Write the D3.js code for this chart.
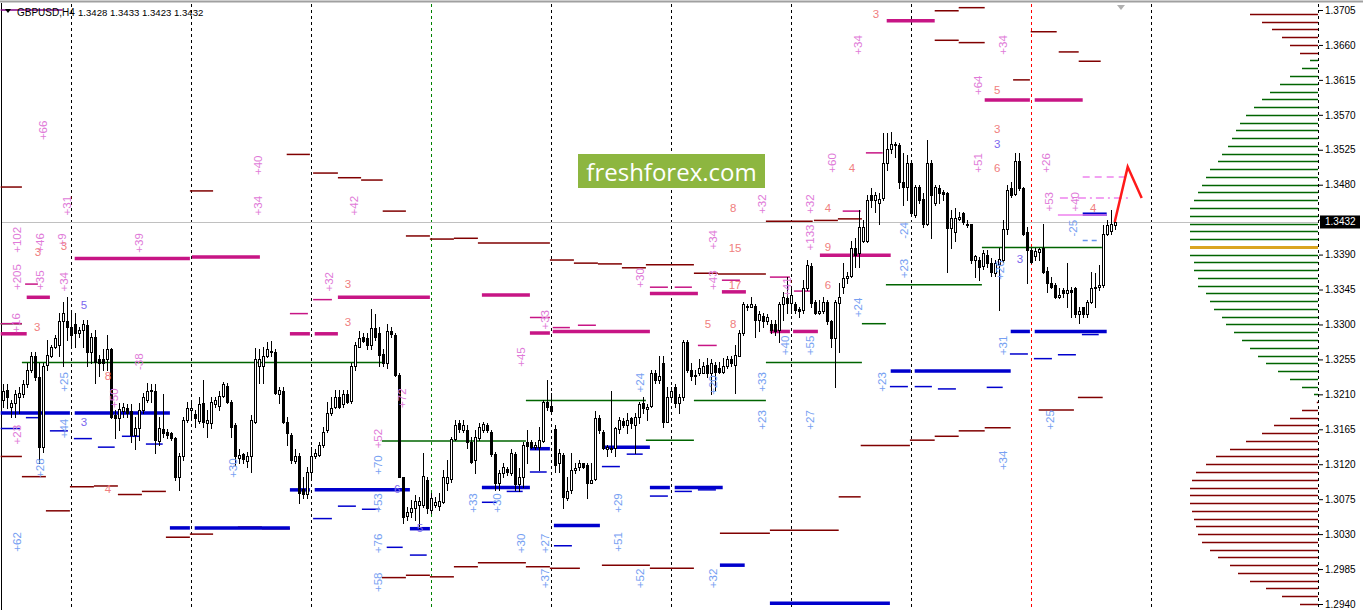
<!DOCTYPE html>
<html><head><meta charset="utf-8">
<script src="https://cdn.jsdelivr.net/npm/d3@7/dist/d3.min.js"></script>
<style>
html,body{margin:0;padding:0;background:#fff;}
svg{display:block;font-family:"Liberation Sans",Arial,sans-serif;}
</style></head><body>
<svg id="c" width="1363" height="610"></svg>
<script>
// ---------------- DATA ----------------
const symbolTitle = "GBPUSD,H4";
const lastOHLC = [1.3428, 1.3433, 1.3423, 1.3432];
const priceTicks = [1.2940,1.2985,1.3030,1.3075,1.3120,1.3165,1.3210,1.3255,1.3300,1.3345,1.3390,1.3435,1.3480,1.3525,1.3570,1.3615,1.3660,1.3705];
const tickLabels = ["1.2940","1.2985","1.3030","1.3075","1.3120","1.3165","1.3210","1.3255","1.3300","1.3345","1.3390","1.3432","1.3480","1.3525","1.3570","1.3615","1.3660","1.3705"];
const currentPrice = 1.3432;
// week separators (bar index) and their colours
const weekStarts = [17,47,77,107,137,167,197,227,257,287];
const weekColors = ["#000","#000","#000","#008000","#000","#000","#000","#000","#ff0000","#000"];
// H4 candles [open, high, low, close]
const candles = [
[1.3203,1.3223,1.3194,1.3214],[1.3216,1.3223,1.3193,1.3206],[1.3194,1.3203,1.3181,1.3199],[1.3199,1.3216,1.3181,1.3210],
[1.3206,1.3219,1.3186,1.3212],[1.3210,1.3229,1.3207,1.3223],[1.3223,1.3251,1.3220,1.3242],[1.3242,1.3265,1.3239,1.3259],
[1.3259,1.3264,1.3229,1.3232],[1.3232,1.3251,1.3122,1.3142],[1.3142,1.3251,1.3136,1.3246],[1.3248,1.3280,1.3242,1.3261],
[1.3259,1.3274,1.3258,1.3271],[1.3271,1.3287,1.3270,1.3283],[1.3273,1.3315,1.3259,1.3304],[1.3304,1.3329,1.3246,1.3315],
[1.3304,1.3335,1.3280,1.3297],
[1.3297,1.3315,1.3271,1.3287],[1.3300,1.3315,1.3271,1.3289],[1.3289,1.3297,1.3284,1.3293],[1.3293,1.3306,1.3271,1.3300],
[1.3299,1.3306,1.3246,1.3264],[1.3264,1.3289,1.3251,1.3284],[1.3284,1.3293,1.3225,1.3252],[1.3255,1.3261,1.3233,1.3250],
[1.3255,1.3268,1.3242,1.3251],[1.3255,1.3287,1.3242,1.3268],[1.3268,1.3270,1.3180,1.3181],[1.3184,1.3190,1.3154,1.3180],
[1.3180,1.3199,1.3164,1.3191],[1.3188,1.3199,1.3181,1.3194],[1.3193,1.3197,1.3181,1.3186],[1.3188,1.3197,1.3148,1.3158],
[1.3158,1.3181,1.3139,1.3167],[1.3167,1.3199,1.3151,1.3190],[1.3190,1.3212,1.3186,1.3206],[1.3203,1.3225,1.3200,1.3214],
[1.3216,1.3223,1.3200,1.3214],[1.3214,1.3223,1.3135,1.3151],[1.3150,1.3181,1.3145,1.3167],[1.3166,1.3210,1.3155,1.3160],
[1.3162,1.3166,1.3154,1.3158],[1.3160,1.3162,1.3151,1.3154],[1.3154,1.3155,1.3100,1.3104],[1.3103,1.3135,1.3087,1.3130],
[1.3130,1.3181,1.3126,1.3177],[1.3177,1.3200,1.3175,1.3193],
[1.3190,1.3203,1.3181,1.3193],[1.3185,1.3190,1.3168,1.3180],[1.3176,1.3206,1.3173,1.3198],[1.3199,1.3229,1.3168,1.3175],
[1.3173,1.3190,1.3155,1.3177],[1.3173,1.3207,1.3167,1.3200],[1.3197,1.3207,1.3194,1.3203],[1.3195,1.3214,1.3190,1.3208],
[1.3208,1.3226,1.3207,1.3223],[1.3221,1.3225,1.3199,1.3200],[1.3200,1.3203,1.3155,1.3168],[1.3170,1.3173,1.3119,1.3130],
[1.3128,1.3139,1.3122,1.3132],[1.3133,1.3135,1.3122,1.3127],[1.3124,1.3136,1.3117,1.3131],[1.3130,1.3184,1.3110,1.3177],
[1.3175,1.3270,1.3173,1.3255],[1.3246,1.3268,1.3225,1.3255],[1.3246,1.3271,1.3225,1.3259],[1.3259,1.3278,1.3258,1.3268],
[1.3266,1.3279,1.3259,1.3264],[1.3264,1.3268,1.3210,1.3212],[1.3211,1.3220,1.3199,1.3216],[1.3214,1.3219,1.3173,1.3175],
[1.3175,1.3181,1.3145,1.3160],[1.3158,1.3160,1.3122,1.3126],[1.3124,1.3139,1.3122,1.3131],[1.3130,1.3135,1.3070,1.3083],
[1.3088,1.3104,1.3077,1.3082],[1.3082,1.3117,1.3077,1.3110],
[1.3110,1.3142,1.3104,1.3131],[1.3130,1.3139,1.3128,1.3135],[1.3132,1.3149,1.3130,1.3145],[1.3145,1.3168,1.3142,1.3162],
[1.3164,1.3200,1.3162,1.3186],[1.3186,1.3206,1.3184,1.3193],[1.3194,1.3216,1.3193,1.3207],[1.3206,1.3216,1.3193,1.3194],
[1.3197,1.3216,1.3194,1.3211],[1.3210,1.3216,1.3199,1.3200],[1.3202,1.3251,1.3199,1.3246],[1.3246,1.3277,1.3242,1.3273],
[1.3271,1.3291,1.3271,1.3283],[1.3284,1.3289,1.3277,1.3279],[1.3282,1.3289,1.3268,1.3274],[1.3274,1.3320,1.3268,1.3295],
[1.3295,1.3313,1.3280,1.3284],[1.3289,1.3297,1.3246,1.3261],[1.3262,1.3268,1.3246,1.3250],[1.3250,1.3300,1.3244,1.3292],
[1.3292,1.3297,1.3284,1.3288],[1.3287,1.3289,1.3234,1.3235],[1.3235,1.3238,1.3103,1.3104],[1.3103,1.3104,1.3044,1.3052],
[1.3053,1.3065,1.3048,1.3059],[1.3059,1.3074,1.3052,1.3064],[1.3064,1.3081,1.3048,1.3073],[1.3068,1.3078,1.3038,1.3073],
[1.3068,1.3135,1.3065,1.3105],[1.3100,1.3104,1.3057,1.3064],
[1.3061,1.3083,1.3057,1.3077],[1.3068,1.3078,1.3065,1.3071],[1.3066,1.3083,1.3061,1.3073],[1.3071,1.3113,1.3070,1.3104],
[1.3096,1.3126,1.3087,1.3104],[1.3101,1.3155,1.3097,1.3153],[1.3153,1.3177,1.3151,1.3171],[1.3173,1.3177,1.3162,1.3166],
[1.3164,1.3177,1.3162,1.3171],[1.3164,1.3171,1.3141,1.3149],[1.3149,1.3155,1.3122,1.3123],[1.3126,1.3164,1.3109,1.3155],
[1.3154,1.3173,1.3151,1.3168],[1.3164,1.3175,1.3162,1.3172],[1.3171,1.3173,1.3162,1.3164],[1.3162,1.3164,1.3130,1.3133],
[1.3133,1.3136,1.3087,1.3096],[1.3096,1.3113,1.3087,1.3109],[1.3109,1.3122,1.3104,1.3117],[1.3114,1.3117,1.3106,1.3110],
[1.3109,1.3139,1.3106,1.3135],[1.3133,1.3136,1.3087,1.3094],[1.3094,1.3115,1.3085,1.3104],[1.3104,1.3148,1.3091,1.3145],
[1.3148,1.3164,1.3122,1.3144],[1.3148,1.3151,1.3141,1.3142],[1.3142,1.3149,1.3139,1.3145],[1.3142,1.3168,1.3113,1.3151],
[1.3150,1.3203,1.3149,1.3200],[1.3200,1.3229,1.3190,1.3194],
[1.3195,1.3212,1.3186,1.3188],[1.3166,1.3171,1.3110,1.3119],[1.3122,1.3139,1.3110,1.3135],[1.3132,1.3135,1.3064,1.3078],
[1.3077,1.3103,1.3074,1.3085],[1.3087,1.3135,1.3083,1.3113],[1.3112,1.3122,1.3109,1.3115],[1.3117,1.3126,1.3113,1.3122],
[1.3121,1.3122,1.3115,1.3117],[1.3119,1.3122,1.3077,1.3096],[1.3096,1.3122,1.3096,1.3100],[1.3101,1.3188,1.3100,1.3179],
[1.3180,1.3184,1.3160,1.3164],[1.3162,1.3164,1.3139,1.3141],[1.3139,1.3145,1.3130,1.3142],[1.3141,1.3214,1.3136,1.3139],
[1.3141,1.3168,1.3130,1.3167],[1.3166,1.3181,1.3160,1.3177],[1.3176,1.3180,1.3168,1.3171],[1.3171,1.3186,1.3160,1.3177],
[1.3179,1.3181,1.3167,1.3173],[1.3170,1.3186,1.3135,1.3181],[1.3181,1.3200,1.3173,1.3198],[1.3199,1.3206,1.3186,1.3193],
[1.3191,1.3197,1.3177,1.3194],[1.3195,1.3242,1.3194,1.3237],[1.3237,1.3242,1.3225,1.3229],[1.3229,1.3259,1.3225,1.3233],
[1.3251,1.3259,1.3168,1.3175],[1.3175,1.3220,1.3175,1.3207],
[1.3207,1.3220,1.3203,1.3214],[1.3220,1.3223,1.3194,1.3199],[1.3199,1.3210,1.3186,1.3206],[1.3206,1.3280,1.3203,1.3278],
[1.3278,1.3280,1.3239,1.3242],[1.3242,1.3251,1.3229,1.3233],[1.3235,1.3242,1.3223,1.3233],[1.3238,1.3255,1.3235,1.3244],
[1.3238,1.3252,1.3237,1.3247],[1.3248,1.3257,1.3232,1.3238],[1.3238,1.3255,1.3210,1.3251],[1.3248,1.3252,1.3216,1.3239],
[1.3244,1.3252,1.3238,1.3239],[1.3239,1.3257,1.3238,1.3247],[1.3246,1.3259,1.3244,1.3255],[1.3255,1.3259,1.3246,1.3251],
[1.3248,1.3273,1.3212,1.3261],[1.3259,1.3293,1.3259,1.3289],[1.3289,1.3329,1.3287,1.3326],[1.3324,1.3327,1.3319,1.3323],
[1.3323,1.3335,1.3322,1.3326],[1.3324,1.3327,1.3284,1.3306],[1.3306,1.3317,1.3291,1.3313],[1.3311,1.3315,1.3297,1.3304],
[1.3304,1.3313,1.3300,1.3309],[1.3300,1.3306,1.3289,1.3293],[1.3300,1.3306,1.3287,1.3291],[1.3293,1.3329,1.3278,1.3327],
[1.3326,1.3342,1.3306,1.3335],[1.3334,1.3361,1.3315,1.3328],
[1.3328,1.3348,1.3315,1.3338],[1.3327,1.3329,1.3315,1.3319],[1.3320,1.3323,1.3310,1.3317],[1.3319,1.3357,1.3315,1.3347],
[1.3347,1.3383,1.3344,1.3376],[1.3375,1.3379,1.3322,1.3328],[1.3329,1.3332,1.3313,1.3315],[1.3315,1.3332,1.3313,1.3317],
[1.3317,1.3335,1.3315,1.3329],[1.3329,1.3332,1.3300,1.3304],[1.3304,1.3306,1.3271,1.3283],[1.3283,1.3332,1.3220,1.3329],
[1.3328,1.3354,1.3264,1.3336],[1.3348,1.3379,1.3340,1.3360],[1.3360,1.3367,1.3353,1.3363],[1.3363,1.3408,1.3361,1.3398],
[1.3398,1.3411,1.3374,1.3389],[1.3392,1.3447,1.3374,1.3425],[1.3408,1.3434,1.3406,1.3425],[1.3408,1.3467,1.3406,1.3460],
[1.3467,1.3476,1.3451,1.3460],[1.3460,1.3471,1.3445,1.3467],[1.3457,1.3469,1.3430,1.3461],[1.3463,1.3546,1.3460,1.3508],
[1.3508,1.3546,1.3499,1.3526],[1.3526,1.3548,1.3521,1.3532],[1.3532,1.3535,1.3516,1.3531],[1.3531,1.3534,1.3476,1.3483],
[1.3483,1.3521,1.3454,1.3477],[1.3477,1.3518,1.3460,1.3508],
[1.3508,1.3512,1.3441,1.3443],[1.3441,1.3480,1.3438,1.3477],[1.3477,1.3480,1.3457,1.3460],[1.3461,1.3469,1.3425,1.3430],
[1.3429,1.3537,1.3428,1.3508],[1.3508,1.3512,1.3412,1.3467],[1.3457,1.3480,1.3454,1.3477],[1.3476,1.3480,1.3456,1.3469],
[1.3471,1.3473,1.3460,1.3468],[1.3469,1.3471,1.3367,1.3424],[1.3424,1.3447,1.3398,1.3437],[1.3419,1.3450,1.3408,1.3437],
[1.3436,1.3445,1.3434,1.3439],[1.3443,1.3445,1.3430,1.3432],[1.3430,1.3434,1.3425,1.3428],[1.3429,1.3430,1.3379,1.3383],
[1.3383,1.3389,1.3361,1.3388],[1.3383,1.3387,1.3357,1.3374],[1.3375,1.3396,1.3372,1.3392],[1.3389,1.3396,1.3374,1.3379],
[1.3379,1.3385,1.3363,1.3367],[1.3366,1.3383,1.3363,1.3379],[1.3378,1.3399,1.3319,1.3384],[1.3383,1.3434,1.3380,1.3423],
[1.3423,1.3480,1.3417,1.3473],[1.3476,1.3483,1.3464,1.3467],[1.3468,1.3521,1.3467,1.3511],[1.3511,1.3521,1.3473,1.3476],
[1.3476,1.3477,1.3415,1.3417],[1.3419,1.3425,1.3353,1.3396],
[1.3396,1.3398,1.3379,1.3380],[1.3388,1.3398,1.3383,1.3394],[1.3393,1.3399,1.3383,1.3397],[1.3398,1.3430,1.3366,1.3367],
[1.3369,1.3374,1.3342,1.3354],[1.3354,1.3361,1.3347,1.3348],[1.3351,1.3353,1.3334,1.3335],[1.3335,1.3347,1.3334,1.3338],
[1.3344,1.3347,1.3335,1.3340],[1.3340,1.3379,1.3323,1.3344],[1.3345,1.3348,1.3310,1.3342],[1.3347,1.3348,1.3310,1.3313],
[1.3313,1.3323,1.3302,1.3317],[1.3322,1.3323,1.3310,1.3313],[1.3313,1.3332,1.3310,1.3329],[1.3329,1.3367,1.3328,1.3347],
[1.3347,1.3366,1.3323,1.3348],[1.3348,1.3376,1.3344,1.3351],[1.3351,1.3428,1.3348,1.3417],[1.3417,1.3434,1.3415,1.3428],
[1.3421,1.3447,1.3417,1.3429],[1.3428,1.3433,1.3423,1.3432]
];
// level segments [fromBar, toBar, price]
const magentaThick = [[221,233,1.3691],[245.5,256.8,1.3589],[258,270,1.3589],[18,46.8,1.3385],[47.3,64.3,1.3387],
 [6,11.8,1.3335],[-0.5,6,1.3288],[83.8,106.8,1.3335],[71.8,76.8,1.3288],[78,83.8,1.3288],[119.8,131.8,1.3338],
 [131.8,136.8,1.3289],[137.5,161.8,1.3291],[161.8,173.8,1.3340],[179.8,185.8,1.3342],[191.8,196.8,1.3291],
 [197.6,203.8,1.3291],[204.3,222,1.3389]];
const magentaThin = [[5.6,8.8,1.3352],[-0.5,4.8,1.3301],[77.6,82.3,1.3332],[71.8,76.3,1.3314],[131.8,136.8,1.3309],
 [137.5,141.8,1.3296],[143.8,148.3,1.3299],[161.8,166.3,1.3348],[168,172.3,1.3348],[173.8,178.5,1.3273],
 [179.8,184.3,1.3357],[191.8,196.8,1.3361],[197.8,201.8,1.3343],[210,214.5,1.3446],[215.8,220,1.3521]];
const violetLines = [[263.8,276,1.3441]];
const violetDashed = [[270,281.8,1.3490]];
const violetDashDot = [[264.3,281.8,1.3463]];
const lightBlueDashed = [[270,274.3,1.3408]];
const blueThick = [[-0.5,16.8,1.3186],[18,41.8,1.3186],[41.8,46.8,1.3038],[48,71.8,1.3038],[71.8,76.8,1.3087],
 [78,101.8,1.3087],[101.8,106.8,1.3037],[119.8,131.8,1.3090],[131.8,136.8,1.3140],[137.8,149.3,1.3041],
 [150,161.8,1.3142],[161.8,166.8,1.3090],[168,180,1.3090],[179.3,185.5,1.2990],[191.8,221.8,1.2941],
 [222,227,1.3240],[228,252,1.3240],[252,256.8,1.3291],[258,276,1.3291],[270,276,1.3442]];
const blueThin = [[5.8,9,1.3180],[-0.5,4.3,1.3166],[11.8,16.3,1.3163],[17.8,22.3,1.3153],[23.8,28,1.3142],
 [29.8,34.3,1.3156],[35.8,40,1.3146],[77.6,82.3,1.3050],[83.8,88.3,1.3066],[89.8,94.3,1.3062],[96,100,1.3013],
 [101.8,106,1.3003],[119.8,123.5,1.3071],[126,130,1.3085],[131.8,136,1.3110],[137.8,142.3,1.3015],
 [149.8,154.3,1.3117],[156,160,1.3133],[161.8,166.3,1.3079],[168,172.3,1.3085],[173.8,178.3,1.3087],
 [221.8,226.3,1.3220],[228,232.3,1.3220],[233.8,238.3,1.3217],[246,250,1.3219],[251.8,256.3,1.3262],
 [257.8,262.3,1.3256],[263.8,268.3,1.3261],[269.8,274,1.3287]];
const darkRed = [[-0.5,4.8,1.3477],[46.8,52.6,1.3472],[71,76.8,1.3519],[77.6,83.8,1.3495],[83.8,89.6,1.3489],
 [89.6,95,1.3486],[95,100.8,1.3446],[100.8,106.8,1.3414],[106.8,112.8,1.3410],[112.8,118.8,1.3411],
 [118.8,136.8,1.3405],[136.8,142.8,1.3383],[142.8,148.8,1.3379],[148.8,154.8,1.3378],[154.8,160.8,1.3373],
 [160.8,172.8,1.3377],[172.8,178.8,1.3366],[178.8,190.8,1.3365],[190.8,202.5,1.3433],[202.8,208.8,1.3434],
 [208.8,214.8,1.3436],[233,239,1.3666],[239,245.5,1.3663],[233,239,1.3704],[239,245.5,1.3708],
 [257,263.5,1.3677],[264,269,1.3651],[269,274.5,1.3639],[252.6,256.8,1.3615],
 [-0.5,4.8,1.3130],[4.8,10.8,1.3104],[10.8,16.8,1.3060],[16.8,22.8,1.3091],[22.8,28.8,1.3092],
 [28.8,34.8,1.3081],[34.8,40.8,1.3085],[40.8,46.8,1.3026],[46.8,52.6,1.3030],[58.8,64.8,1.3039],[64.8,71.8,1.3037],
 [94.8,100.8,1.2974],[100.8,106.8,1.2977],[106.8,112.8,1.2975],[112.8,118.8,1.2988],[118.8,130.8,1.2993],
 [130.8,136.8,1.2988],[136.8,144.3,1.2986],[149.8,161.8,1.2990],[161.8,172.8,1.2986],[179.3,191.8,1.3031],
 [191.8,209,1.3035],[209,214.5,1.3078],[214.5,226.8,1.3144],[226.8,233,1.3151],[233,239,1.3156],
 [239,245.5,1.3163],[245.5,252,1.3167],[259,267.8,1.3190],[268.8,275,1.3206]];
const darkGreen = [[4.8,94.8,1.3251],[-0.5,4.8,1.3301],[94.8,130.8,1.3150],[130.8,160.8,1.3202],[160.8,172.8,1.3151],
 [172.8,190.8,1.3202],[190.8,214.8,1.3251],[214.8,220.8,1.3301],[220.8,244.8,1.3351],[244.8,274.8,1.3399]];
const purpleLines = [[-0.5,15,1.3705]];
// rotated labels [bar, price, text]
const pinkLabels = [[10.1,1.3550,"+66"],[63.8,1.3505,"+40"],[63.8,1.3453,"+34"],[87.8,1.3453,"+42"],[16.1,1.3453,"+31"],
 [3.6,1.3409,"+102"],[9.3,1.3405,"+46"],[14.8,1.3409,"+9"],[34.1,1.3405,"+39"],[3.6,1.3361,"+205"],[9.3,1.3357,"+35"],
 [15.3,1.3355,"+34"],[81.6,1.3355,"+32"],[3.3,1.3302,"+16"],[34.1,1.3252,"-38"],[27.8,1.3205,"+50"],[3.6,1.3158,"+23"],
 [93.8,1.3153,"+52"],[99.8,1.3205,"+72"],[129.6,1.3258,"+45"],[135.6,1.3306,"+33"],[159.3,1.3360,"+30"],
 [177.6,1.3409,"+34"],[177.6,1.3357,"+43"],[189.8,1.3455,"+32"],[201.8,1.3455,"+32"],[201.8,1.3412,"+133"],
 [207.3,1.3508,"+60"],[213.8,1.3660,"+34"],[243.8,1.3608,"+64"],[243.8,1.3508,"+51"],[250.1,1.3660,"+34"],
 [260.8,1.3508,"+26"],[261.6,1.3458,"+53"],[268.1,1.3458,"+40"],[196.1,1.3348,"+41"]];
const blueLabels = [[15.3,1.3226,"+25"],[15.3,1.3166,"+44"],[9.3,1.3115,"+28"],[3.6,1.3020,"+62"],[57.6,1.3115,"+30"],
 [93.8,1.3119,"+70"],[93.8,1.3070,"+53"],[93.8,1.3018,"+76"],[93.8,1.2968,"+58"],[117.6,1.3070,"+33"],
 [123.6,1.3070,"+30"],[129.6,1.3018,"+30"],[135.6,1.3018,"+27"],[135.6,1.2973,"+37"],[159.3,1.3225,"+24"],
 [153.8,1.3070,"+29"],[153.8,1.3020,"+51"],[159.3,1.2973,"+52"],[177.6,1.2973,"+32"],[177.6,1.3222,"+20"],
 [189.8,1.3226,"+33"],[189.8,1.3177,"+23"],[201.8,1.3177,"+27"],[201.8,1.3273,"+55"],[195.6,1.3273,"+40"],
 [213.8,1.3322,"+24"],[219.8,1.3226,"+23"],[225.3,1.3421,"-24"],[225.3,1.3372,"+23"],[250.1,1.3273,"+31"],
 [250.1,1.3125,"+34"],[261.8,1.3177,"+25"],[267.6,1.3424,"-25"],[249.3,1.3370,"+26"]];
// small count numbers [bar, price, text]
const salmonNums = [[218.3,1.3700,"3"],[248.6,1.3602,"5"],[248.6,1.3552,"3"],[248.6,1.3502,"6"],[212.3,1.3502,"4"],
 [182.6,1.3450,"8"],[206.3,1.3450,"4"],[272.6,1.3450,"4"],[183.1,1.3398,"15"],[206.3,1.3400,"9"],[8.8,1.3393,"3"],
 [15.3,1.3401,"3"],[183.1,1.3351,"17"],[86.3,1.3352,"3"],[206.3,1.3351,"6"],[8.6,1.3297,"3"],[86.3,1.3303,"3"],
 [176.3,1.3300,"5"],[182.6,1.3300,"8"],[26.3,1.3234,"8"],[26.3,1.3088,"4"]];
const slateNums = [[248.6,1.3532,"3"],[20.3,1.3325,"5"],[20.3,1.3174,"3"],[98.6,1.3088,"6"],[104.3,1.3038,"5"],[254.3,1.3384,"3"]];
// red zigzag [bar, price]
const zigzag = [[278,1.3432],[281.25,1.3503],[284.75,1.3463]];
// right-side market profile: price levels (1.3700 down to 1.2940, step 0.0010) and counts
const profilePrices = [];
const profileCounts = [17,14,11.5,9,7,4.5,2,4,7,9.5,12,14,16,18,19.5,20.5,21.5,22.5,
 24,25,27,28,29,30,31,32,32,32,32,32,32,32,31,31,30,30,28,27,26,24,23,21,19,17,15,13,10,7,4,1,0.3,
 4,7,11,14,18,22,25.5,28,30.5,31.5,32,32,32,31.5,31,30.5,30,29,27,25,22,20,17,13,9,4.5];
for (let k = 0; k < profileCounts.length; k++) profilePrices.push(+(1.3700 - k*0.0010).toFixed(4));
const profilePOC = 1.3400;
const valueAreaHigh = 1.3645, valueAreaLow = 1.3205;

// ---------------- CHART ----------------
const svg = d3.select("#c");
const x = d3.scaleLinear().domain([0, 278]).range([2.7, 1114.7]);
const y = d3.scaleLinear().domain([1.2940, 1.3705]).range([604, 10]);
const prof = d3.scaleLinear().domain([0, 32]).range([1318, 1190]);
const chartL = 2, chartR = 1318;

// frame
svg.append("line").attr("x1",0).attr("x2",1363).attr("y1",1.5).attr("y2",1.5).attr("stroke","#a0a0a0").attr("stroke-width",2);
svg.append("line").attr("x1",1.5).attr("x2",1.5).attr("y1",3).attr("y2",610).attr("stroke","#000");

// week separators
svg.append("g").selectAll("line").data(weekStarts).join("line")
  .attr("x1", d => Math.round(x(d)) + 0.5).attr("x2", d => Math.round(x(d)) + 0.5)
  .attr("y1", 4).attr("y2", 610)
  .attr("stroke", (d,i) => weekColors[i]).attr("stroke-dasharray", "3,3").attr("stroke-width", 1);
// right dashed edge
svg.append("line").attr("x1",chartR+0.5).attr("x2",chartR+0.5).attr("y1",4).attr("y2",610)
  .attr("stroke","#000").attr("stroke-dasharray","3,3");

// current price line
svg.append("line").attr("x1",chartL).attr("x2",chartR).attr("y1",Math.round(y(currentPrice))+0.5).attr("y2",Math.round(y(currentPrice))+0.5)
  .attr("stroke","#c0c0c0").attr("stroke-width",1);

// profile
svg.append("g").selectAll("line").data(profilePrices).join("line")
  .attr("x1", (d,i) => prof(profileCounts[i])).attr("x2", chartR)
  .attr("y1", d => Math.round(y(d)) + 0.5).attr("y2", d => Math.round(y(d)) + 0.5)
  .attr("stroke", d => Math.abs(d - profilePOC) < 1e-6 ? "#daa520" : (d <= valueAreaHigh && d >= valueAreaLow ? "#006400" : "#800000"))
  .attr("stroke-width", d => Math.abs(d - profilePOC) < 1e-6 ? 3 : 1.5);

function segs(data, color, width, dash) {
  const g = svg.append("g");
  g.selectAll("line").data(data).join("line")
    .attr("x1", d => x(d[0])).attr("x2", d => x(d[1]))
    .attr("y1", d => y(d[2])).attr("y2", d => y(d[2]))
    .attr("stroke", color).attr("stroke-width", width)
    .attr("stroke-dasharray", dash || null);
}
segs(darkGreen, "#006400", 1.5);
segs(darkRed, "#800000", 1.5);
segs(purpleLines, "#800080", 1.5);
segs(magentaThin, "#c71585", 1.5);
segs(magentaThick, "#c71585", 3.5);
segs(blueThin, "#0000cd", 1.5);
segs(blueThick, "#0000cd", 3.5);
segs(violetLines, "#ee82ee", 1.5);
segs(violetDashed, "#ee82ee", 1.5, "7,5");
segs(violetDashDot, "#ee82ee", 1.5, "8,4,2,4");
segs(lightBlueDashed, "#6495ed", 1.5, "5,4");

// candles
const cg = svg.append("g").attr("shape-rendering","crispEdges");
candles.forEach((c, i) => {
  const cx = Math.round(x(i));
  const [o,h,l,cl] = c;
  cg.append("line").attr("x1",cx+0.5).attr("x2",cx+0.5).attr("y1",Math.round(y(h))).attr("y2",Math.round(y(l))+1).attr("stroke","#000");
  const top = Math.round(y(Math.max(o,cl))), bot = Math.round(y(Math.min(o,cl)));
  if (cl >= o) {
    cg.append("rect").attr("x",cx-0.5).attr("y",top+0.5).attr("width",2).attr("height",Math.max(bot-top,1))
      .attr("fill","#fff").attr("stroke","#000").attr("stroke-width",1);
  } else {
    cg.append("rect").attr("x",cx-1).attr("y",top).attr("width",3).attr("height",Math.max(bot-top,1)+1).attr("fill","#000");
  }
});

// labels
function rotLabels(data, color) {
  svg.append("g").selectAll("text").data(data).join("text")
    .attr("transform", d => `translate(${x(d[0])},${y(d[1])}) rotate(-90)`)
    .attr("text-anchor","middle").attr("dy","0.35em")
    .attr("font-size", 11.5).attr("fill", color).text(d => d[2]);
}
rotLabels(pinkLabels, "#e07ad8");
rotLabels(blueLabels, "#76a0f2");
function numLabels(data, color) {
  svg.append("g").selectAll("text").data(data).join("text")
    .attr("x", d => x(d[0])).attr("y", d => y(d[1])).attr("dy","0.35em")
    .attr("text-anchor","middle").attr("font-size", 11.5).attr("fill", color).text(d => d[2]);
}
numLabels(salmonNums, "#f08080");
numLabels(slateNums, "#7b68ee");

// zigzag
svg.append("path").datum(zigzag)
  .attr("d", d3.line().x(d => x(d[0])).y(d => y(d[1])))
  .attr("fill","none").attr("stroke","#ff1a1a").attr("stroke-width",2.5);

// logo
const logo = svg.append("g");
logo.append("rect").attr("x",578).attr("y",154).attr("width",187).attr("height",34).attr("fill","#8db640");
logo.append("text").attr("x",671.5).attr("y",181).attr("text-anchor","middle")
  .attr("font-family","'Open Sans',sans-serif").attr("font-size",24).attr("fill","#fff").text("freshforex.com");

// axis
const axis = d3.axisRight(y).tickValues(priceTicks).tickSize(4).tickFormat((d,i) => tickLabels[i]);
const ag = svg.append("g").attr("transform", `translate(${chartR+1},0)`).call(axis);
ag.select(".domain").remove();
ag.selectAll("text").attr("font-size", 10).attr("font-family","'Liberation Sans',Arial,sans-serif").attr("fill","#000").attr("x", 6);
ag.selectAll(".tick").filter(d => Math.abs(d - 1.3435) < 1e-6).select("text").attr("fill","none");
// current price box
const cy = y(currentPrice);
svg.append("rect").attr("x",1320).attr("y",cy-6.5).attr("width",40).attr("height",13).attr("fill","#000");
svg.append("text").attr("x",1325).attr("y",cy).attr("dy","0.35em").attr("font-size",10).attr("fill","#fff").text(currentPrice.toFixed(4));

// header
svg.append("path").attr("d","M5,9 L11,9 L8,13 Z").attr("fill","#000");
svg.append("text").attr("x",17).attr("y",16).attr("font-size",10).attr("fill","#000").text(symbolTitle);
svg.append("text").attr("x",78).attr("y",16).attr("font-size",9.6).attr("fill","#000")
  .text(lastOHLC.map(v => v.toFixed(4)).join(" "));
// chart-shift marker
svg.append("path").attr("d","M1117,5 L1125,5 L1121,10 Z").attr("fill","#b0b0b0");
</script>
</body></html>
